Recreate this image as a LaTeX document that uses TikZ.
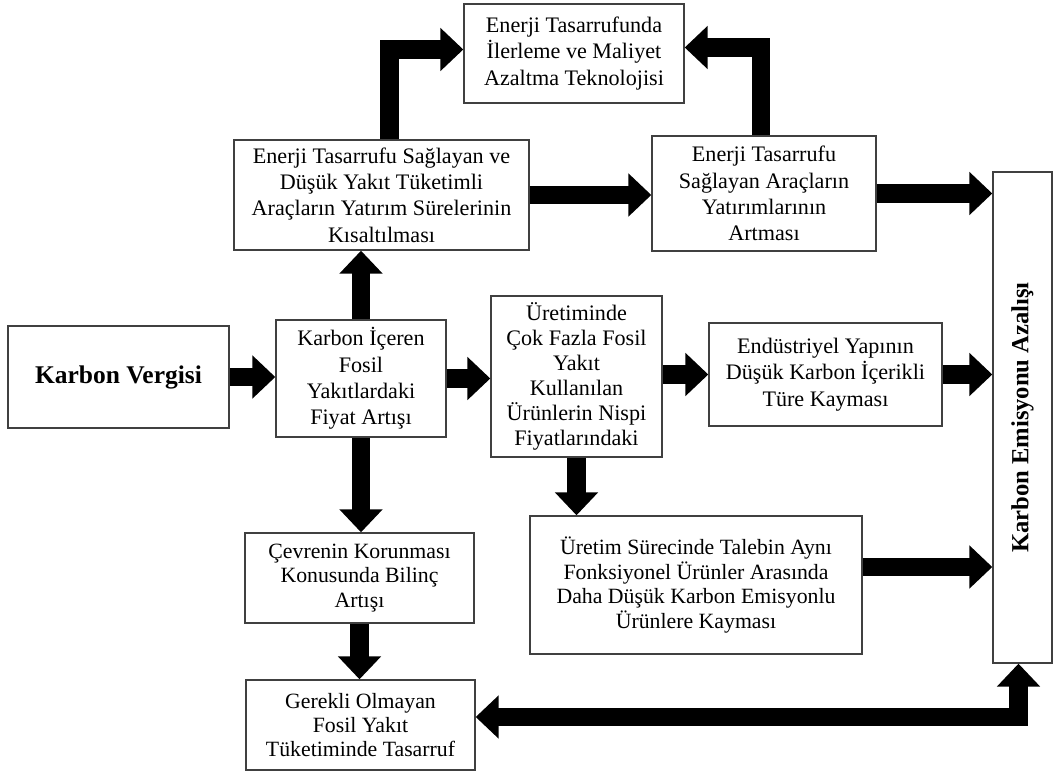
\documentclass[tikz,border=0pt]{standalone}
\usepackage{fontspec}
\setmainfont{Liberation Serif}
\usepackage{graphicx}
\usetikzlibrary{arrows.meta}
\begin{document}
\begin{tikzpicture}[x=0.02cm,y=-0.02cm,
  box/.style={draw=black!75, line width=0.8pt, fill=white, align=center, inner sep=2pt, font=\fontsize{12.6}{15}\selectfont},
  boxs/.style={box, font=\fontsize{12.4}{13.9}\selectfont},
  bigarrow/.style={line width=0.37cm, line join=miter, -{Triangle[length=0.46cm,width=0.84cm]}},
  ]
\useasboundingbox (0,0) rectangle (1054,773);
\node[box, minimum width=4.40cm, minimum height=1.98cm] (top) at (574,53.5) {Enerji Tasarrufunda\\İlerleme ve Maliyet\\Azaltma Teknolojisi};
\node[box, minimum width=5.90cm, minimum height=2.20cm] (b3) at (381.5,195) {Enerji Tasarrufu Sağlayan ve\\Düşük Yakıt Tüketimli\\Araçların Yatırım Sürelerinin\\Kısaltılması};
\node[box, minimum width=4.48cm, minimum height=2.30cm] (b5) at (764,193.5) {Enerji Tasarrufu\\Sağlayan Araçların\\Yatırımlarının\\Artması};
\node[box, minimum width=1.18cm, minimum height=9.82cm] (em) at (1022.5,417.5) {\rotatebox{90}{\fontsize{14}{17}\selectfont\bfseries Karbon Emisyonu Azalışı}};
\node[box, minimum width=4.42cm, minimum height=2.04cm, font=\fontsize{14.5}{17}\selectfont\bfseries] (kv) at (118.5,377) {Karbon Vergisi};
\node[box, minimum width=3.40cm, minimum height=2.34cm] (b2) at (361,378.5) {Karbon İçeren\\Fosil\\Yakıtlardaki\\Fiyat Artışı};
\node[box, minimum width=3.42cm, minimum height=3.22cm, font=\fontsize{12.6}{14.3}\selectfont] (b7) at (576.5,376.5) {Üretiminde\\Çok Fazla Fosil\\Yakıt\\Kullanılan\\Ürünlerin Nispi\\Fiyatlarındaki};
\node[box, minimum width=4.66cm, minimum height=2.06cm] (b8) at (825.5,374.5) {Endüstriyel Yapının\\Düşük Karbon İçerikli\\Türe Kayması};
\node[boxs, minimum width=6.64cm, minimum height=2.76cm] (b9) at (696,585) {Üretim Sürecinde Talebin Aynı\\Fonksiyonel Ürünler Arasında\\Daha Düşük Karbon Emisyonlu\\Ürünlere Kayması};
\node[boxs, minimum width=4.58cm, minimum height=1.80cm] (b10) at (359.5,578) {Çevrenin Korunması\\Konusunda Bilinç\\Artışı};
\node[boxs, minimum width=4.58cm, minimum height=1.80cm] (b11) at (360.5,725) {Gerekli Olmayan\\Fosil Yakıt\\Tüketiminde Tasarruf};

\draw[bigarrow] ([xshift=0.16cm]b3.north) |- ([yshift=0.08cm]top.west);
\draw[bigarrow] ([xshift=-0.06cm]b5.north) |- ([yshift=0.12cm]top.east);
\draw[bigarrow] (b3.east) -- (b3.east -| b5.west);
\draw[bigarrow] (b5.east) -- (b5.east -| em.west);
\draw[bigarrow] (kv.east) -- (kv.east -| b2.west);
\draw[bigarrow] (b2.east) -- (b2.east -| b7.west);
\draw[bigarrow] (b2.north) -- (b2.north |- b3.south);
\draw[bigarrow] (b2.south) -- (b2.south |- b10.north);
\draw[bigarrow] (b8.west -| b7.east) -- (b8.west);
\draw[bigarrow] (b8.east) -- (b8.east -| em.west);
\draw[bigarrow] (b7.south) -- (b7.south |- b9.north);
\draw[bigarrow] ([yshift=0.36cm]b9.east) -- ([yshift=0.36cm]b9.east -| em.west);
\draw[bigarrow] (b10.south) -- (b10.south |- b11.north);
\draw[bigarrow, {Triangle[length=0.46cm,width=0.84cm]}-{Triangle[length=0.46cm,width=0.84cm]}] ([yshift=0.16cm]b11.east) -| ([xshift=-0.08cm]em.south);
\end{tikzpicture}
\end{document}
